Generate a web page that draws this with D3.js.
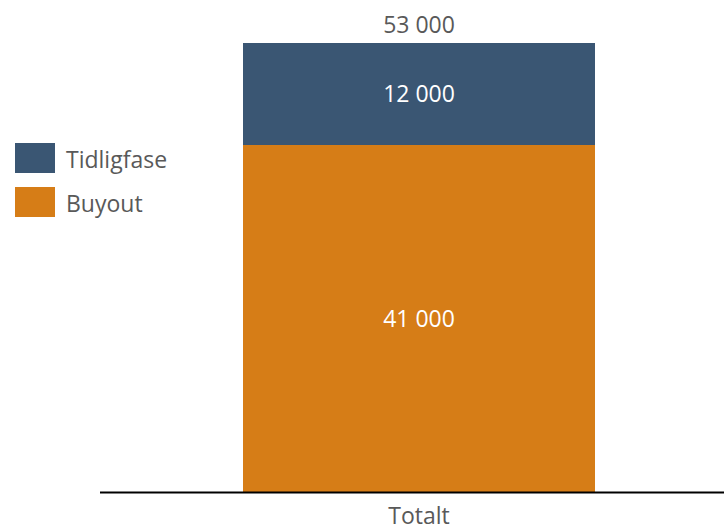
<!DOCTYPE html>
<html>
<head>
<meta charset="utf-8">
<script src="https://cdn.jsdelivr.net/npm/d3@7"></script>
<style>
  html, body { margin: 0; padding: 0; background: #fff; }
  svg text { font-family: "Open Sans", "Noto Sans", sans-serif; }
</style>
</head>
<body>
<svg id="chart" width="724" height="531"></svg>
<script>
// Stacked values per category
const categories = ["Totalt"];
const seriesNames = ["Buyout", "Tidligfase"];
const buyout = [41000];
const tidligfase = [12000];
const colors = { "Buyout": "#d67d17", "Tidligfase": "#3a5673" };
const legendOrder = ["Tidligfase", "Buyout"];

const fmt = v => d3.format(",")(v).replace(/,/g, " ");

const svg = d3.select("#chart");
const margin = { top: 43, right: 0, bottom: 39, left: 100 };
const W = 724, H = 531;
const innerW = W - margin.left - margin.right;
const innerH = H - margin.top - margin.bottom;

const table = categories.map((c, i) => ({ category: c, Buyout: buyout[i], Tidligfase: tidligfase[i] }));
const stack = d3.stack().keys(seriesNames)(table);
const totals = table.map(d => d.Buyout + d.Tidligfase);

// The bar sits slightly left of the plot's centre
const x = d3.scaleBand().domain(categories).range([143, 495]).padding(0);
const y = d3.scaleLinear().domain([0, d3.max(totals)]).range([innerH, 0]);

const g = svg.append("g").attr("transform", `translate(${margin.left},${margin.top})`);

// Bar segments
const layers = g.selectAll("g.layer").data(stack).join("g")
  .attr("class", "layer")
  .attr("fill", d => colors[d.key]);

layers.selectAll("rect").data(d => d.map(p => ({ p, key: d.key }))).join("rect")
  .attr("shape-rendering", "crispEdges")
  .attr("x", d => x(d.p.data.category))
  .attr("width", x.bandwidth())
  .attr("y", d => y(d.p[1]))
  .attr("height", d => y(d.p[0]) - y(d.p[1]));

// Segment value labels
layers.selectAll("text").data(d => d.map(p => ({ p, key: d.key }))).join("text")
  .attr("x", d => x(d.p.data.category) + x.bandwidth() / 2)
  .attr("y", d => (y(d.p[0]) + y(d.p[1])) / 2)
  .attr("dy", "0.36em")
  .attr("text-anchor", "middle")
  .attr("fill", "#ffffff")
  .attr("font-size", 23)
  .text(d => fmt(d.p[1] - d.p[0]));

// Totals above bars
g.selectAll("text.total").data(table).join("text")
  .attr("class", "total")
  .attr("x", d => x(d.category) + x.bandwidth() / 2)
  .attr("y", (d, i) => y(totals[i]) - 10)
  .attr("text-anchor", "middle")
  .attr("fill", "#595959")
  .attr("font-size", 23)
  .text((d, i) => fmt(totals[i]));

// Category axis: baseline across the whole plot width
const xAxis = g.append("g")
  .attr("transform", `translate(0,${innerH})`)
  .call(d3.axisBottom(x).tickSize(0).tickPadding(16));
xAxis.select(".domain").remove();
xAxis.append("line")
  .attr("x1", 0).attr("x2", innerW)
  .attr("y1", 0.5).attr("y2", 0.5)
  .attr("stroke", "#000").attr("stroke-width", 2);
xAxis.selectAll(".tick text")
  .attr("fill", "#595959")
  .attr("font-size", 23)
  .attr("font-family", "Open Sans, Noto Sans, sans-serif");

// Legend
const legend = svg.append("g").attr("transform", "translate(15,143)");
const items = legend.selectAll("g").data(legendOrder).join("g")
  .attr("transform", (d, i) => `translate(0,${i * 44})`);
items.append("rect").attr("width", 40).attr("height", 30).attr("fill", d => colors[d]);
items.append("text")
  .attr("x", 51).attr("y", 17).attr("dy", "0.36em")
  .attr("fill", "#595959").attr("font-size", 23)
  .text(d => d);
</script>
</body>
</html>
